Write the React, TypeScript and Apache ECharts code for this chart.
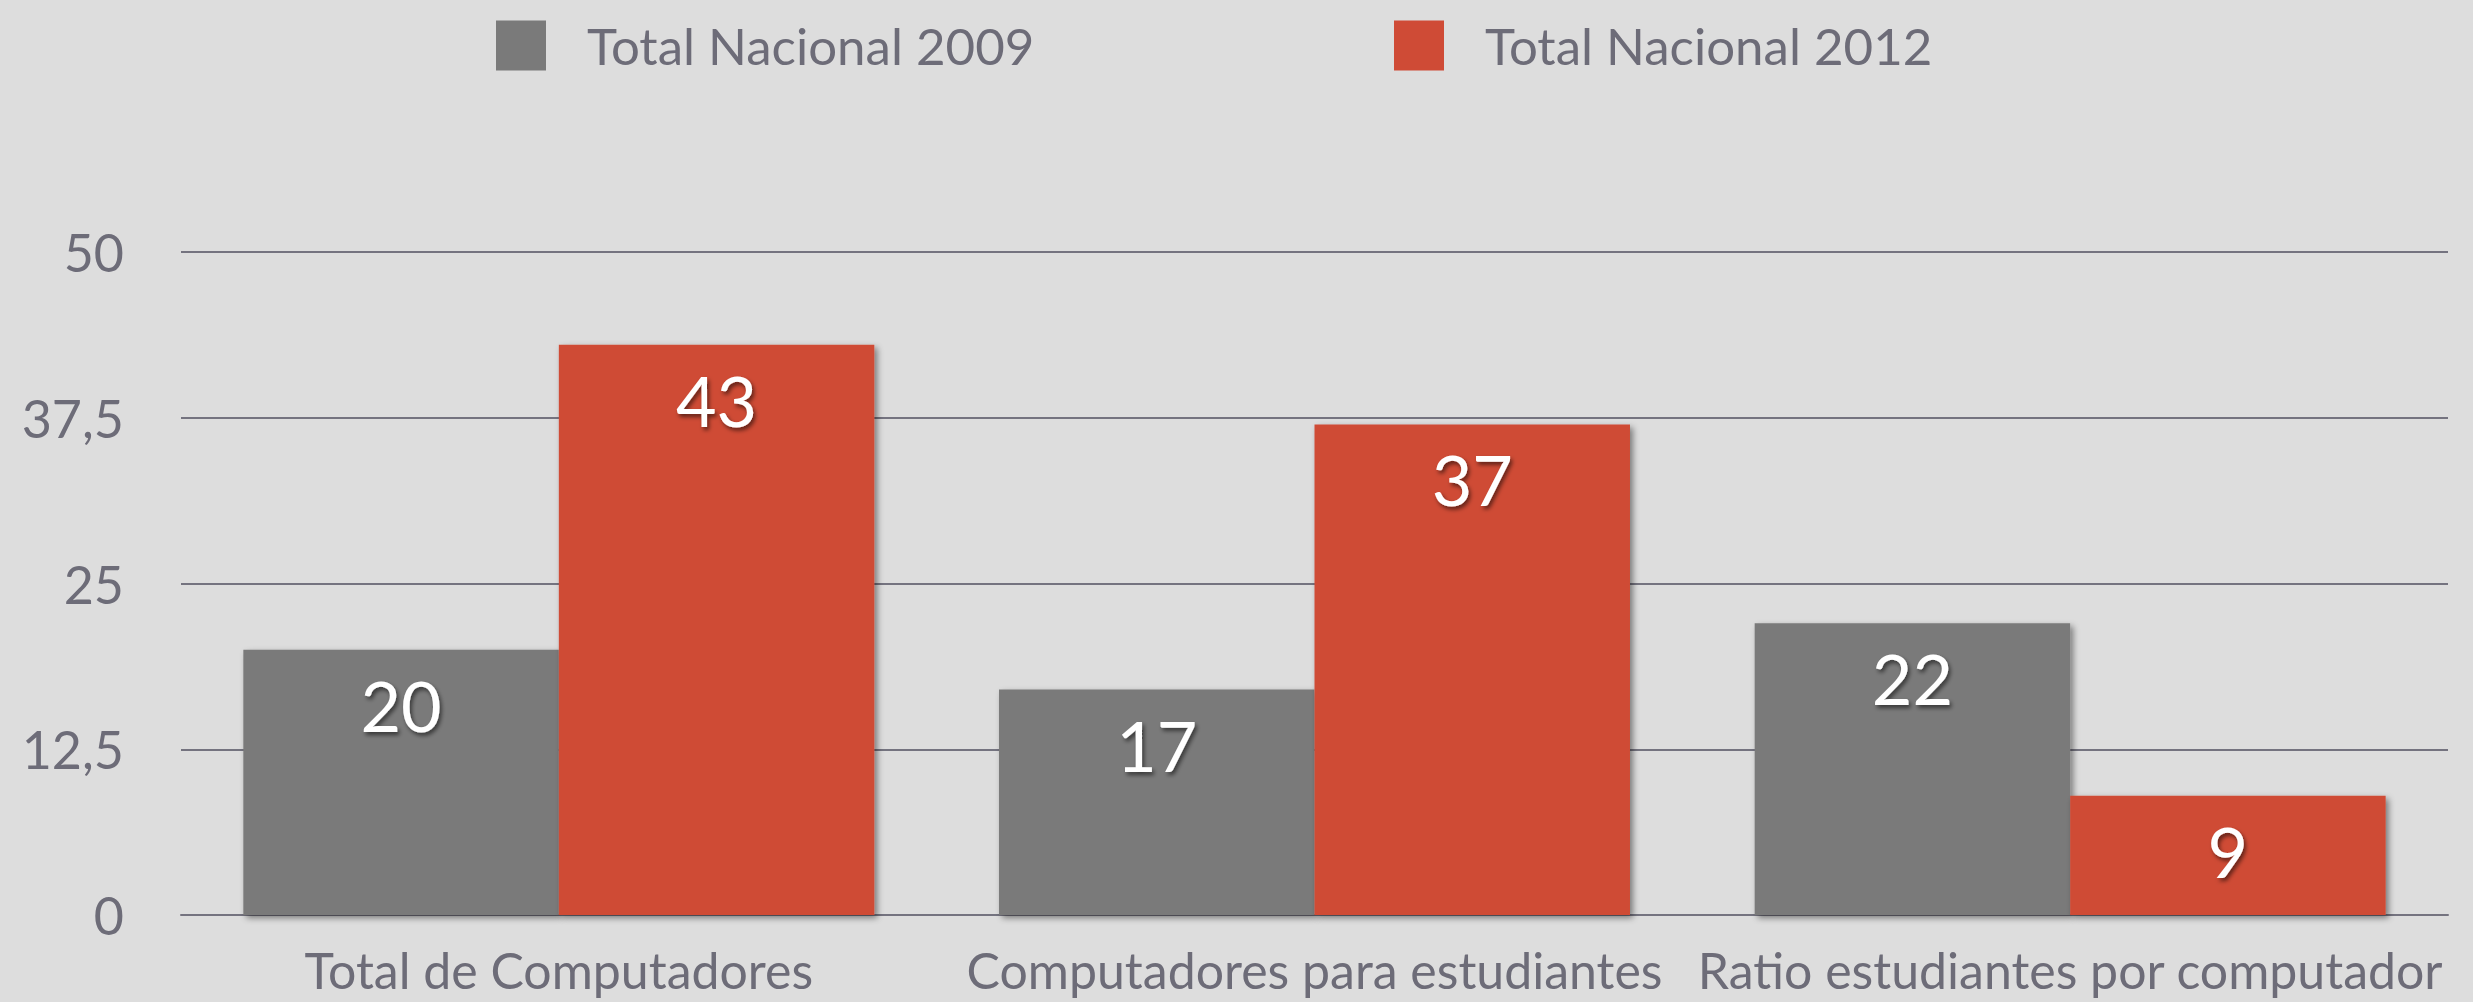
import React, { useEffect, useRef } from "react";
import * as echarts from "echarts";

const categories = [
  "Total de Computadores",
  "Computadores para estudiantes",
  "Ratio estudiantes por computador",
];
const seriesNames = ["Total Nacional 2009", "Total Nacional 2012"];
const values2009 = [20, 17, 22];
const values2012 = [43, 37, 9];
const yMin = 0;
const yMax = 50;
const yInterval = 12.5;

const FONT = "Lato";
const TEXT_COLOR = "#6d6c78";
const GRID_COLOR = "#74737f";
const GRAY = "#7a7a7a";
const RED = "#cf4b36";

export default function App() {
  const ref = useRef<HTMLDivElement>(null);

  useEffect(() => {
    document.body.style.margin = "0";
    const chart = echarts.init(ref.current as HTMLDivElement, null, { renderer: "svg" });

    const barLabel = {
      show: true,
      position: "insideTop",
      distance: 20,
      color: "#ffffff",
      fontFamily: FONT,
      fontSize: 70,
      textShadowColor: "rgba(0,0,0,0.55)",
      textShadowBlur: 4,
      textShadowOffsetX: 2,
      textShadowOffsetY: 3,
    };
    const barShadow = {
      shadowColor: "rgba(0,0,0,0.45)",
      shadowBlur: 6,
      shadowOffsetX: 3,
      shadowOffsetY: 3,
    };

    const legendCommon = {
      top: 15,
      icon: "rect",
      itemWidth: 50,
      itemHeight: 50,
      selectedMode: false,
      textStyle: {
        fontFamily: FONT,
        fontSize: 51,
        color: TEXT_COLOR,
        padding: [0, 0, 0, 36],
      },
    };

    chart.setOption({
      animation: false,
      backgroundColor: "#dddddd",
      textStyle: { fontFamily: FONT },
      legend: [
        { ...legendCommon, left: 491, data: [seriesNames[0]] },
        { ...legendCommon, left: 1389, data: [seriesNames[1]] },
      ],
      grid: { left: 181, right: 25, top: 252, bottom: 87, containLabel: false },
      xAxis: {
        type: "category",
        data: categories,
        axisLine: { show: true, lineStyle: { color: GRID_COLOR, width: 2 } },
        axisTick: { show: false },
        axisLabel: {
          fontFamily: FONT,
          fontSize: 50,
          color: TEXT_COLOR,
          margin: 30,
          interval: 0,
        },
      },
      yAxis: {
        type: "value",
        min: yMin,
        max: yMax,
        interval: yInterval,
        axisLine: { show: false },
        axisTick: { show: false },
        splitLine: { lineStyle: { color: GRID_COLOR, width: 2 } },
        axisLabel: {
          fontFamily: FONT,
          fontSize: 52,
          color: TEXT_COLOR,
          margin: 57,
          formatter: (v: number) => String(v).replace(".", ","),
        },
      },
      series: [
        {
          name: seriesNames[0],
          type: "bar",
          data: values2009,
          barGap: "0%",
          barCategoryGap: "16.5%",
          itemStyle: { color: GRAY, ...barShadow },
          label: barLabel,
        },
        {
          name: seriesNames[1],
          type: "bar",
          data: values2012,
          barGap: "0%",
          barCategoryGap: "16.5%",
          itemStyle: { color: RED, ...barShadow },
          label: barLabel,
        },
      ],
    });

    return () => chart.dispose();
  }, []);

  return <div ref={ref} style={{ width: 2473, height: 1002 }} />;
}
